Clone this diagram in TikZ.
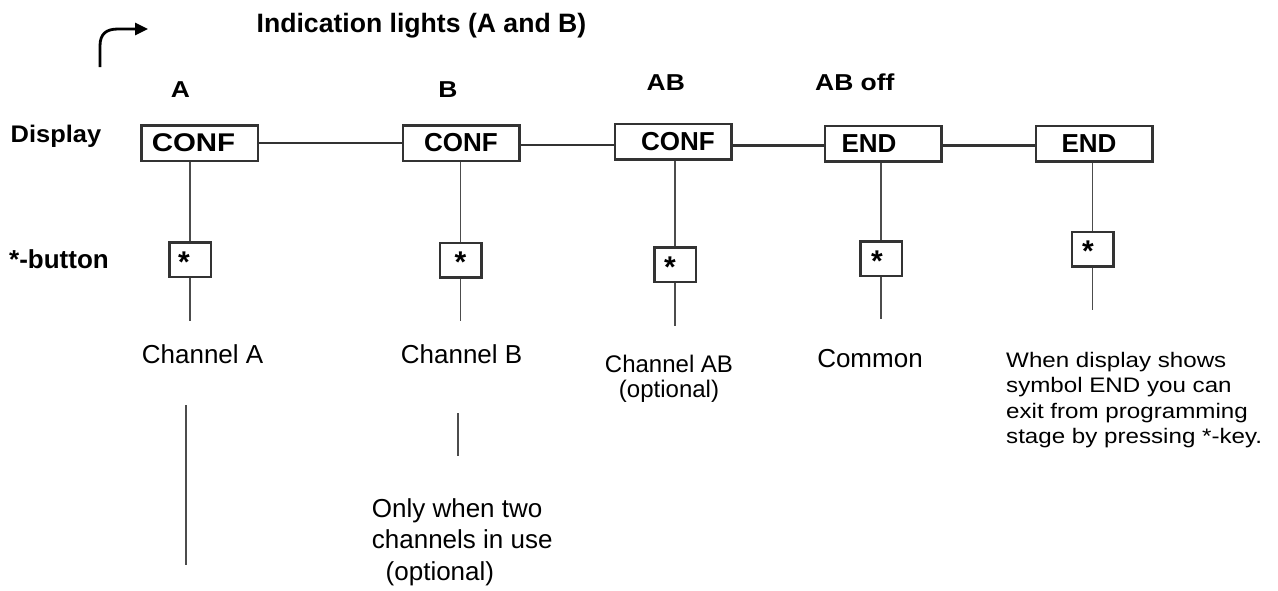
\documentclass[tikz,border=0pt]{standalone}
\usepackage{fontspec}
\setmainfont{Liberation Sans}
\newfontfamily\widefont{Liberation Sans}[FakeStretch=1.15]
\newfontfamily\dispfont{Liberation Sans}[FakeStretch=1.06]
\newfontfamily\labfont{Liberation Sans}[FakeStretch=1.15]
\usetikzlibrary{arrows.meta}
\newcommand\stk[1]{\raisebox{-12.5pt}[0pt][0pt]{\makebox[0pt]{\hspace*{#1}*}}}
\begin{document}
\begin{tikzpicture}[x=1pt,y=-1pt,
  box/.style={draw=black!80,line width=2.5pt,minimum width=116.5pt,minimum height=35.5pt,inner sep=0pt,
    font=\fontsize{26}{30}\selectfont\bfseries},
  btn/.style={draw=black!80,line width=2.5pt,minimum width=41.5pt,minimum height=34.5pt,inner sep=0pt,
    font=\fontsize{30}{34}\selectfont\bfseries},
  hlink/.style={draw=black!80,line width=2.5pt},
  vlink/.style={draw=black!70,line width=1.5pt},
  lbl/.style={inner sep=0pt,font=\labfont\bfseries\fontsize{23}{27}\selectfont},
  head/.style={inner sep=0pt,font=\fontsize{26}{30}\selectfont\bfseries},
  txt/.style={inner sep=0pt,font=\fontsize{26}{30}\selectfont},
  small/.style={inner sep=0pt,font=\fontsize{24}{28}\selectfont},
  note/.style={inner sep=0pt,font=\widefont\fontsize{21}{25}\selectfont}]
\useasboundingbox (0,0) rectangle (1278,590);

% entry arrow
\coordinate (ar0) at (100,67);
\coordinate (ar1) at (148,29);
\draw[line width=2.8pt,-{Triangle[length=13pt,width=12pt]}]
  (ar0) -- (100,46) .. controls (100,34) and (106,29) .. (118,29) -- (ar1);

% headings
\node[inner sep=0pt,anchor=base west,font=\fontsize{26.6}{30}\selectfont\bfseries] (title) at (256.5,32) {Indication lights (A and B)};
\node[inner sep=0pt,anchor=base west,font=\dispfont\bfseries\fontsize{24}{28}\selectfont] (disp) at (10.5,142) {Display};
\node[head,anchor=base west] (btnlbl) at (9,268) {*-button};

\node[lbl,anchor=base] (la) at (180.5,97) {A};
\node[lbl,anchor=base] (lb) at (448,97) {B};
\node[lbl,anchor=base west] (lab) at (646.5,90) {AB};
\node[lbl,anchor=base west] (laboff) at (815,90) {AB off};

% display boxes
\node[box,font=\widefont\bfseries\fontsize{25.6}{30}\selectfont] (b1) at (199.5,143) {\hspace*{-12pt}CONF};
\node[box] (b2) at (461,143) {CONF};
\node[box] (b3) at (673,141.5) {\hspace*{10pt}CONF};
\node[box] (b4) at (883,143.5) {\hspace*{-28pt}END};
\node[box] (b5) at (1094,143.5) {\hspace*{-10pt}END};

\draw[hlink] (b1.east) -- (b2.west);
\draw[hlink] ([yshift=-2pt]b2.east) -- ([yshift=-2pt]b2.east -| b3.west);
\draw[hlink] ([yshift=-4pt]b3.east) -- ([yshift=-4pt]b3.east -| b4.west);
\draw[hlink] ([yshift=-2pt]b4.east) -- ([yshift=-2pt]b4.east -| b5.west);

% star buttons
\node[btn] (s1) at (190,259.5) {\stk{-12pt}};
\node[btn] (s2) at (460.5,260) {\stk{0pt}};
\node[btn] (s3) at (675,264.5) {\stk{-10pt}};
\node[btn] (s4) at (881,258.5) {\stk{-8pt}};
\node[btn] (s5) at (1092.5,249) {\stk{-9pt}};

\draw[vlink] (s1.north) -- (s1.north |- b1.south);
\draw[vlink] (s2.north) -- (s2.north |- b2.south);
\draw[vlink] (s3.north) -- (s3.north |- b3.south);
\draw[vlink] (s4.north) -- (s4.north |- b4.south);
\draw[vlink] (s5.north) -- (s5.north |- b5.south);

\coordinate (e1) at (190,321);
\coordinate (e2) at (460.5,321);
\coordinate (e3) at (675,326);
\coordinate (e4) at (881,319);
\coordinate (e5) at (1092.5,310);
\draw[vlink] (s1.south) -- (e1);
\draw[vlink] (s2.south) -- (e2);
\draw[vlink] (s3.south) -- (e3);
\draw[vlink] (s4.south) -- (e4);
\draw[vlink] (s5.south) -- (e5);

% descriptions
\node[txt,anchor=base west] (ca) at (141.7,363) {Channel A};
\node[txt,anchor=base west] (cb) at (400.7,363) {Channel B};
\node[small,anchor=base] (cab1) at (669,372) {Channel AB};
\node[small,anchor=base] (cab2) at (669,397) {(optional)};
\node[txt,anchor=base] (com) at (870,367) {Common};

\node[note,anchor=base west] (n1) at (1006,367) {When display shows};
\node[note,anchor=base west] (n2) at (1006,392.5) {symbol END you can};
\node[note,anchor=base west] (n3) at (1006,418) {exit from programming};
\node[note,anchor=base west] (n4) at (1006,443.5) {stage by pressing *-key.};

% lines below channel texts
\coordinate (la0) at (186,405);
\coordinate (la1) at (186,565);
\draw[vlink] (la0) -- (la1);
\coordinate (lb0) at (458,413);
\coordinate (lb1) at (458,456);
\draw[vlink] (lb0) -- (lb1);

\node[txt,anchor=base west] (o1) at (371.7,517) {Only when two};
\node[txt,anchor=base west] (o2) at (371.7,548) {channels in use};
\node[txt,anchor=base west] (o3) at (385.5,580) {(optional)};
\end{tikzpicture}
\end{document}
